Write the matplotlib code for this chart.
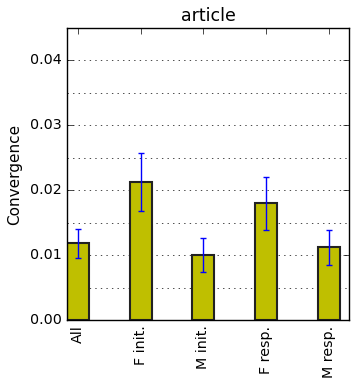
import numpy as np
import matplotlib
matplotlib.use("Agg")
import matplotlib.pyplot as plt
from matplotlib.ticker import MultipleLocator

labels = ["All", "F init.", "M init.", "F resp.", "M resp."]
values = [0.0118, 0.0213, 0.0100, 0.0180, 0.0112]
errors = [0.0023, 0.0045, 0.0026, 0.0041, 0.0027]

plt.style.use('classic')
fig = plt.figure(figsize=(3.58, 3.88), dpi=100, facecolor='white')
ax = fig.add_axes([67/358, 68/388, 282/358, 292/388])

width = 0.35
pos = np.arange(len(labels))
ax.bar(pos, values, width, align='edge', color='y', edgecolor='#222222', linewidth=1.5,
       yerr=errors, error_kw=dict(ecolor='b', capsize=2.5, elinewidth=1, capthick=1))

ax.set_xlim(0, 4.5)
ax.set_ylim(0, 0.045)
ax.set_xticks(pos + width / 2)
ax.set_xticklabels(labels, rotation=90)
ax.yaxis.set_major_locator(MultipleLocator(0.01))
ax.yaxis.set_minor_locator(MultipleLocator(0.005))
ax.yaxis.set_major_formatter(plt.FormatStrFormatter('%.2f'))
ax.tick_params(axis='both', which='major', labelsize=10.3)
ax.tick_params(axis='y', which='minor', length=0)
ax.yaxis.grid(True, which='both', linestyle=':', color='k')
ax.set_axisbelow(True)
ax.set_ylabel("Convergence", fontsize=11)
ax.set_title("article", fontsize=12.5)

fig.savefig("out.png", dpi=100, facecolor='white')
